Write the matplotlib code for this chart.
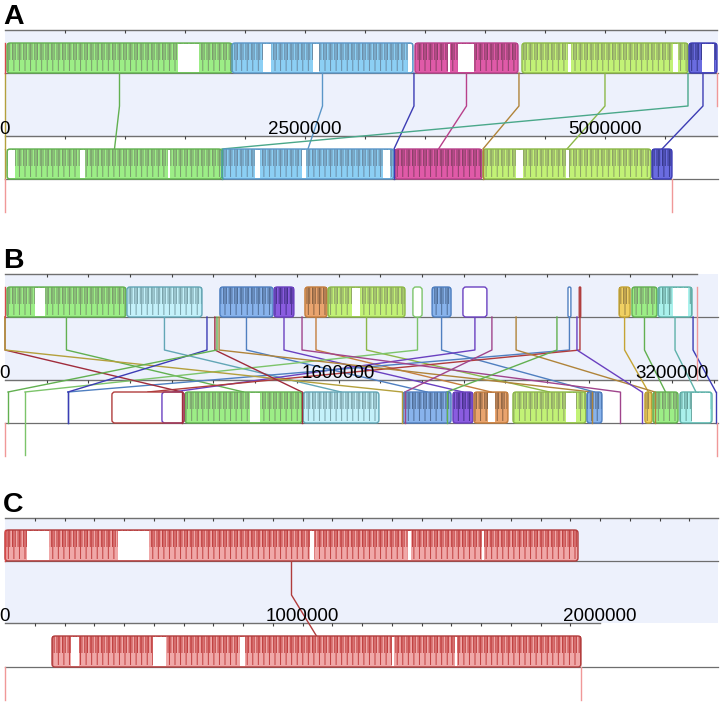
import matplotlib.pyplot as plt
from matplotlib.patches import Rectangle, FancyBboxPatch

plt.rcParams['font.family'] = ['Liberation Sans', 'DejaVu Sans']
plt.rcParams['hatch.linewidth'] = 0.7

# colour name -> (fill, streak, outline)
colours = {
    'green':   ('#9cee86', '#7a9a6c', '#62b050'),
    'blue':    ('#8ccff4', '#6a8ca6', '#5a96c8'),
    'magenta': ('#e05aa8', '#8a3f68', '#b8408a'),
    'lime':    ('#c2f276', '#8c9f66', '#8cb848'),
    'indigo':  ('#6a6ce0', '#35378a', '#3c3cb4'),
    'cyan':    ('#c4f1fa', '#78a0a8', '#62a6b6'),
    'steel':   ('#88b3ec', '#4e6c96', '#4f7fc0'),
    'purple':  ('#8a5ce0', '#45308a', '#6a40c0'),
    'orange':  ('#e9a46e', '#886040', '#c47e3e'),
    'gold':    ('#f0d062', '#988042', '#c4a434'),
    'teal':    ('#aaf1ec', '#629c96', '#5fb2aa'),
    'red':     ('#f0a8a8', '#c03e3e', '#b03c3c'),
    'ltgreen': ('#ffffff', '#ffffff', '#7cc46a'),
    'olive':   ('#ffffff', '#ffffff', '#b4a03c'),
    'brown':   ('#ffffff', '#ffffff', '#b0843a'),
    'plum':    ('#ffffff', '#ffffff', '#a0448c'),
    'darkred': ('#ffffff', '#ffffff', '#a02c3c'),
    'seagreen': ('#ffffff', '#ffffff', '#4aa88a'),
}

# ---------------- panel A (bp) ----------------
a_top_len, a_low_len = 5933000, 5558000
# (top start, top end, lower start, lower end, colour, empty)
a_lcbs = [
    (16700, 1891600, 16700, 1808000, 'green', False),
    (1891600, 3400000, 1808000, 3241600, 'blue', False),
    (3416500, 4275000, 3250000, 3975000, 'magenta', False),
    (4308000, 5691600, 3983000, 5383000, 'lime', False),
    (5700000, 5933000, 5391600, 5558000, 'indigo', False),
    (0, 0, 0, 0, 'olive', True),
    (3408000, 3408000, 3241600, 3241600, 'indigo', True),
    (4283000, 4283000, 3983000, 3983000, 'brown', True),
    (5691600, 5691600, 1808000, 1808000, 'seagreen', True),
]
a_gaps_top = [(1442000, 1617000), (2150000, 2217000), (2567000, 2617000),
              (3358000, 3392000), (3692000, 3708000), (3775000, 3908000),
              (4692000, 4717000), (5567000, 5608000), (5808000, 5908000)]
a_gaps_low = [(25000, 83000), (625000, 667000), (1358000, 1375000),
              (2083000, 2125000), (2475000, 2508000), (3150000, 3208000),
              (4258000, 4317000), (4675000, 4700000)]
a_labels = [0, 2500000, 5000000]

# ---------------- panel B (bp) ----------------
b_top_len, b_low_len = 3320000, 3416000
b_lcbs = [
    (9600, 580000, 864000, 1425000, 'green', False),
    (585000, 945000, 1430000, 1794000, 'cyan', False),
    (1031000, 1286000, 1909000, 2140000, 'steel', False),
    (1291000, 1386000, 2149000, 2245000, 'purple', False),
    (1439000, 1545000, 2250000, 2413000, 'orange', False),
    (1550000, 1919000, 2437000, 2787000, 'lime', False),
    (1957000, 2001000, 96000, 96000, 'ltgreen', True),
    (2049000, 2140000, 2792000, 2864000, 'steel', False),
    (2197000, 2312000, 753000, 859000, 'purple', True),
    (2701000, 2715000, 302000, 302000, 'steel', True),
    (2946000, 2999000, 3070000, 3104000, 'gold', False),
    (3008000, 3128000, 3109000, 3229000, 'green', False),
    (3133000, 3296000, 3238000, 3392000, 'teal', False),
    (2755000, 2762000, 513000, 859000, 'red', True),
    (0, 0, 849000, 849000, 'darkred', True),
    (0, 0, 1905000, 1905000, 'olive', True),
    (969000, 969000, 302000, 302000, 'indigo', True),
    (1007000, 1007000, 1425000, 1425000, 'darkred', True),
    (1017000, 1017000, 14400, 14400, 'green', True),
    (1027000, 1027000, 2815000, 2815000, 'brown', True),
    (1425000, 1425000, 2950000, 2950000, 'plum', True),
    (2336000, 2336000, 1919000, 1919000, 'plum', True),
    (2452000, 2452000, 3118000, 3118000, 'brown', True),
    (2648000, 2648000, 2120000, 2120000, 'green', True),
    (2744000, 2744000, 3056000, 3056000, 'purple', True),
    (3301000, 3301000, 3411000, 3411000, 'indigo', True),
]
b_gaps_top = [(144000, 192000), (1665000, 1703000), (3205000, 3277000)]
b_gaps_low = [(1175000, 1223000), (2317000, 2351000), (2691000, 2739000),
              (3296000, 3382000)]
b_reverse_low = [96000]
b_labels = [0, 1600000, 3200000]

# ---------------- panel C (bp) ----------------
c_top_len, c_low_len = 1926000, 1936000
c_lcbs = [(0, 1926000, 158000, 1936000, 'red', False)]
c_gaps_top = [(74000, 148000), (380000, 484000), (1025000, 1038000),
              (1355000, 1365000), (1603000, 1610000)]
c_gaps_low = [(222000, 249000), (497000, 541000), (790000, 807000),
              (1301000, 1308000), (1512000, 1519000)]
c_labels = [0, 1000000, 2000000]

BG = '#edf1fc'
RULER = '#707070'

fig = plt.figure(figsize=(7.21, 7.03), dpi=100)
fig.patch.set_facecolor('white')


def new_axes(scale):
    ax = fig.add_axes([0, 0, 1, 1])
    ax.set_xlim(-5 * scale, 716 * scale)
    ax.set_ylim(703, 0)
    ax.axis('off')
    ax.patch.set_alpha(0)
    return ax


def draw_block(ax, x0, x1, y0, y1, name, scale, empty):
    fill, streak, edge = colours[name]
    w = x1 - x0
    h = y1 - y0
    if not empty:
        ax.add_patch(Rectangle((x0, y0), w, h, facecolor=fill, edgecolor='none', zorder=2))
        ax.add_patch(Rectangle((x0, y0), w, h * 0.92, facecolor='none', edgecolor=streak,
                               lw=0, hatch='|||', zorder=3))
        ax.add_patch(Rectangle((x0, y0), w, h * 0.55, facecolor='none', edgecolor=streak,
                               lw=0, hatch='||||||', zorder=3))
    else:
        ax.add_patch(Rectangle((x0, y0), w, h, facecolor='white', edgecolor='none', zorder=2))
    r = min(3.0, w / scale / 2)
    ax.add_patch(FancyBboxPatch((x0, y0), w, h,
                                boxstyle=f'round,pad=0,rounding_size={r * scale}',
                                mutation_aspect=1 / scale, facecolor='none',
                                edgecolor=edge, lw=1, zorder=5))


def draw_ruler(ax, y, end, step, scale):
    ax.plot([0, end], [y, y], color=RULER, lw=1, zorder=1)
    ticks = list(range(step, int(end) + 1, step))
    ax.vlines(ticks, y, y + 2.5, color='#404040', lw=0.8, zorder=1)


def draw_panel(letter, scale, lay, lcbs, gaps_top, gaps_low, labels, step,
               top_len, low_len, reverse_low=()):
    ax = new_axes(scale)
    t0, t1 = lay['top']
    l0, l1 = lay['low']
    right = 713 * scale
    ax.add_patch(Rectangle((0, lay['ruler_top']), right, lay['ruler_low'] - lay['ruler_top'],
                           facecolor=BG, edgecolor='none', zorder=0))
    draw_ruler(ax, lay['ruler_top'], lay['ruler_top_end'] * scale, step, scale)
    draw_ruler(ax, lay['ruler_low'], lay['ruler_low_end'] * scale, step, scale)
    ax.plot([0, right], [t1, t1], color='#6e6e6e', lw=0.9, zorder=1)
    ax.plot([0, right], [l1, l1], color='#6e6e6e', lw=0.9, zorder=1)

    for ts, te, ls, le, name, empty in lcbs:
        edge = colours[name][2]
        xt = (ts + te) / 2
        xl = (ls + le) / 2
        ax.plot([xt, xt, xl], [t1, lay['bend'], l0], color=edge, lw=1, zorder=1.5)
        if te > ts:
            draw_block(ax, ts, te, t0, t1, name, scale, empty)
        if le > ls:
            draw_block(ax, ls, le, l0, l1, name, scale, empty)
        else:
            bottom = l1 + 32 if ls in reverse_low else l1
            ax.plot([ls, ls], [l0, bottom], color=edge, lw=1, zorder=5)

    for s, e in gaps_top:
        ax.add_patch(Rectangle((s, t0 + 0.7), e - s, t1 - t0 - 1.4, facecolor='white',
                               edgecolor='none', zorder=4))
    for s, e in gaps_low:
        ax.add_patch(Rectangle((s, l0 + 0.7), e - s, l1 - l0 - 1.4, facecolor='white',
                               edgecolor='none', zorder=4))

    # genome end markers
    ax.plot([0, 0], [t0, t1], color='#d84848', lw=1, zorder=6)
    ax.plot([top_len, top_len], [lay['top_end_from'], lay['top_end_to']], color='#f09898',
            lw=1, zorder=6)
    ax.plot([0, 0], [l1, l1 + 33], color='#f09898', lw=1, zorder=6)
    ax.plot([low_len, low_len], [l1, l1 + 33], color='#f09898', lw=1, zorder=6)

    for v in labels:
        ax.text(v, lay['ruler_low'] - 2, str(v), ha='center', va='baseline',
                fontsize=13.5, color='black', zorder=7)
    ax.text(-2 * scale, lay['letter'], letter, ha='left', va='top', fontsize=20.5,
            fontweight='bold', color='black', zorder=7)


lay_a = {'ruler_top': 30, 'top': (43, 73), 'bend': 106, 'ruler_low': 136,
         'low': (149, 179), 'letter': 4, 'ruler_top_end': 712, 'ruler_low_end': 712,
         'top_end_from': 73, 'top_end_to': 106}
lay_b = {'ruler_top': 274, 'top': (287, 317), 'bend': 350, 'ruler_low': 380,
         'low': (392, 423), 'letter': 248, 'ruler_top_end': 692, 'ruler_low_end': 712,
         'top_end_from': 287, 'top_end_to': 380}
lay_c = {'ruler_top': 518, 'top': (530, 561), 'bend': 595, 'ruler_low': 623,
         'low': (636, 667), 'letter': 492, 'ruler_top_end': 713, 'ruler_low_end': 595,
         'top_end_from': 561, 'top_end_to': 561}

draw_panel('A', 8333.3, lay_a, a_lcbs, a_gaps_top, a_gaps_low, a_labels, 500000,
           a_top_len, a_low_len)
draw_panel('B', 4797.6, lay_b, b_lcbs, b_gaps_top, b_gaps_low, b_labels, 200000,
           b_top_len, b_low_len, b_reverse_low)
draw_panel('C', 3361.3, lay_c, c_lcbs, c_gaps_top, c_gaps_low, c_labels, 100000,
           c_top_len, c_low_len)

fig.savefig('out.png', dpi=100, facecolor='white')
